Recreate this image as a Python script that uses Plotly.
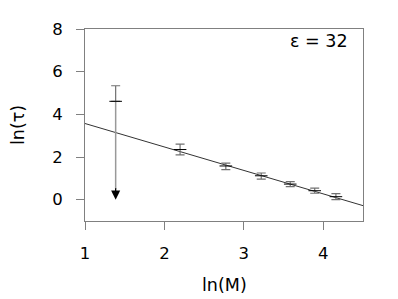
import plotly.graph_objects as go

# data
ln_M = [1.386, 2.197, 2.773, 3.219, 3.584, 3.892, 4.159]
ln_tau = [4.61, 2.35, 1.58, 1.12, 0.73, 0.42, 0.14]
err_plus = [0.73, 0.25, 0.13, 0.13, 0.12, 0.12, 0.14]
err_minus = [0.0, 0.25, 0.17, 0.16, 0.12, 0.12, 0.14]
arrow_end = 0.0  # upper-limit arrow for first point
fit_intercept = 4.67
fit_slope = -1.10
x_range = [1, 4.5]
y_range = [-1, 8]
x_ticks = [1, 2, 3, 4]
y_ticks = [0, 2, 4, 6, 8]
label = "ε = 32"

FONT = "DejaVu Sans"
AX = "#808080"

fig = go.Figure()

# fit line
fx = [x_range[0], x_range[1]]
fy = [fit_intercept + fit_slope * v for v in fx]
fig.add_trace(go.Scatter(x=fx, y=fy, mode="lines",
                         line=dict(color="#333333", width=1),
                         hoverinfo="skip", showlegend=False))

# downward shaft for first point (upper limit)
fig.add_trace(go.Scatter(x=[ln_M[0], ln_M[0]], y=[ln_tau[0], arrow_end + 0.5],
                         mode="lines", line=dict(color="#999999", width=1.5),
                         hoverinfo="skip", showlegend=False))

# points with error bars
fig.add_trace(go.Scatter(
    x=ln_M, y=ln_tau, mode="markers",
    marker=dict(symbol="line-ew", size=9, color="black",
                line=dict(color="black", width=1)),
    error_y=dict(type="data", symmetric=False, array=err_plus,
                 arrayminus=err_minus, color="#707070", thickness=1.2, width=4.5),
    showlegend=False))

fig.add_annotation(x=ln_M[0], y=arrow_end, ax=ln_M[0], ay=arrow_end + 0.6,
                   xref="x", yref="y", axref="x", ayref="y",
                   text="", showarrow=True, arrowhead=2, arrowsize=1.4,
                   arrowwidth=1.3, arrowcolor="black")

fig.add_annotation(x=0.953, y=0.94, xref="paper", yref="paper",
                   xanchor="right", yanchor="middle", text=label,
                   showarrow=False, font=dict(family=FONT, size=17.5, color="black"))

fig.add_annotation(x=0.5, y=0, xref="paper", yref="paper", yshift=-64,
                   xanchor="center", yanchor="middle", text="ln(M)",
                   showarrow=False, font=dict(family=FONT, size=17.5, color="black"))
fig.add_annotation(x=0, y=0.5, xref="paper", yref="paper", xshift=-67,
                   xanchor="center", yanchor="middle", text="ln(τ)", textangle=-90,
                   showarrow=False, font=dict(family=FONT, size=17.5, color="black"))

axis_common = dict(showgrid=False, zeroline=False, showline=True, linecolor=AX,
                   linewidth=1, mirror=True, ticks="outside", ticklen=8,
                   tickcolor=AX, tickwidth=1,
                   tickfont=dict(family=FONT, size=16.5, color="black"))

fig.update_xaxes(range=x_range, tickvals=x_ticks, ticklabelstandoff=9, **axis_common)
fig.update_yaxes(range=y_range, tickvals=y_ticks, ticklabelstandoff=10, **axis_common)

# page body adds an 8px margin, so the figure is made 8px smaller and shifted
fig.update_layout(width=390, height=291,
                  margin=dict(l=77, r=35, t=16, b=78),
                  paper_bgcolor="white", plot_bgcolor="white",
                  font=dict(family=FONT))

fig.write_html("out.html")
